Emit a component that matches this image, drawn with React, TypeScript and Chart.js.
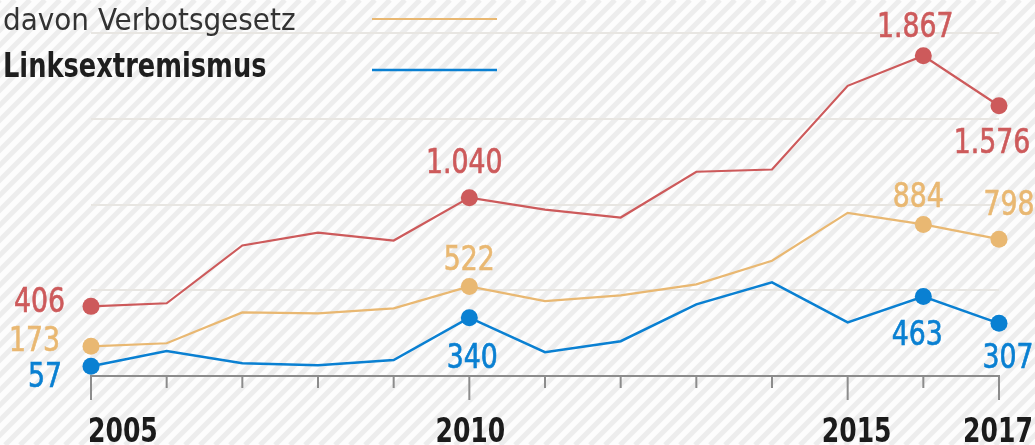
import React, { useEffect, useRef } from "react";
import { Chart, registerables } from "chart.js";

Chart.register(...registerables);

// ---- data ----
const years = ["2005", "2006", "2007", "2008", "2009", "2010", "2011", "2012", "2013", "2014", "2015", "2016", "2017"];
const rechtsextremismus = [406, 424, 761, 836, 790, 1040, 970, 924, 1191, 1204, 1692, 1867, 1576];
const verbotsgesetz = [173, 191, 371, 365, 394, 522, 437, 470, 534, 672, 951, 884, 798];
const linksextremismus = [57, 145, 74, 63, 93, 340, 139, 203, 418, 546, 313, 463, 307];
const yGridValues = [500, 1000, 1500, 2000];
const majorYears = ["2005", "2010", "2015", "2017"];
const markedIndices = [0, 5, 11, 12];
const legendLabels = ["davon Verbotsgesetz", "Linksextremismus"];

// ---- styling ----
const RED = "#cd5a5b";
const ORANGE = "#e9b872";
const BLUE = "#0a80d2";
const FONT = '"DejaVu Sans Condensed", sans-serif';

// label placement relative to the point (dataset index, data index, dx, baseline dy, align)
const labelPlacement: [number, number, number, number, CanvasTextAlign][] = [
  [2, 0, -26, 6, "right"], [2, 5, -5, -25, "center"], [2, 11, -8, -19, "center"], [2, 12, -7, 47, "center"],
  [1, 0, -31, 5, "right"], [1, 5, 0, -16, "center"], [1, 11, -5, -17, "center"], [1, 12, 10, -24, "center"],
  [0, 0, -29, 21, "right"], [0, 5, 3, 50, "center"], [0, 11, -6, 48, "center"], [0, 12, 9, 45, "center"],
];
const yearLabelPlacement: Record<string, [number, CanvasTextAlign]> = {
  "2005": [-3, "left"], "2010": [1, "center"], "2015": [9, "center"], "2017": [-1, "center"],
};

const fmt = (n: number) =>
  n >= 1000 ? Math.floor(n / 1000) + "." + String(n % 1000).padStart(3, "0") : String(n);

function drawText(
  ctx: CanvasRenderingContext2D, text: string, x: number, y: number,
  align: CanvasTextAlign, font: string, color: string, sx: number, stroke = 0,
) {
  ctx.save();
  ctx.translate(x, y);
  ctx.scale(sx, 1);
  ctx.font = font;
  ctx.textAlign = align;
  ctx.textBaseline = "alphabetic";
  ctx.fillStyle = color;
  ctx.fillText(text, 0, 0);
  if (stroke > 0) {
    ctx.strokeStyle = color;
    ctx.lineWidth = stroke;
    ctx.strokeText(text, 0, 0);
  }
  ctx.restore();
}

const backgroundPlugin = {
  id: "stripes",
  beforeDraw(chart: any) {
    const { ctx, width, height } = chart;
    ctx.save();
    ctx.fillStyle = "#fdfdfd";
    ctx.fillRect(0, 0, width, height);
    ctx.strokeStyle = "#ededed";
    ctx.lineWidth = 5;
    const period = 15;
    for (let x = -height; x < width + height; x += period) {
      ctx.beginPath();
      ctx.moveTo(x, height);
      ctx.lineTo(x + height, 0);
      ctx.stroke();
    }
    ctx.restore();
  },
};

const axisPlugin = {
  id: "xaxis",
  beforeDatasetsDraw(chart: any) {
    const { ctx } = chart;
    const xs = chart.scales.x;
    const ys = chart.scales.y;
    const y0 = ys.getPixelForValue(0);
    ctx.save();
    ctx.strokeStyle = "#8c8c8c";
    ctx.lineWidth = 2;
    ctx.beginPath();
    ctx.moveTo(xs.getPixelForValue(0) - 1, y0);
    ctx.lineTo(xs.getPixelForValue(years.length - 1) + 1, y0);
    ctx.stroke();
    years.forEach((yr, i) => {
      const x = xs.getPixelForValue(i);
      const len = majorYears.includes(yr) ? 24 : 12;
      ctx.beginPath();
      ctx.moveTo(x, y0);
      ctx.lineTo(x, y0 + len);
      ctx.stroke();
    });
    ctx.restore();
    years.forEach((yr, i) => {
      if (!majorYears.includes(yr)) return;
      const [dx, align] = yearLabelPlacement[yr];
      drawText(ctx, yr, xs.getPixelForValue(i) + dx, y0 + 66, align, `bold 34px ${FONT}`, "#1b1b1b", 0.82);
    });
  },
};

const labelsPlugin = {
  id: "valueLabels",
  afterDatasetsDraw(chart: any) {
    const { ctx } = chart;
    labelPlacement.forEach(([ds, idx, dx, dy, align]) => {
      const pt = chart.getDatasetMeta(ds).data[idx];
      const dataset = chart.data.datasets[ds];
      drawText(ctx, fmt(dataset.data[idx]), pt.x + dx, pt.y + dy, align, `33px ${FONT}`, dataset.borderColor, 0.9, 0.6);
    });
  },
};

const legendPlugin = {
  id: "topLegend",
  afterDraw(chart: any) {
    const { ctx } = chart;
    drawText(ctx, legendLabels[0], 3, 30, "left", `31px ${FONT}`, "#333333", 1);
    drawText(ctx, legendLabels[1], 3, 77, "left", `bold 34px ${FONT}`, "#1e1e1e", 0.84);
    ctx.save();
    ctx.lineWidth = 2;
    ctx.strokeStyle = ORANGE;
    ctx.beginPath();
    ctx.moveTo(372, 19);
    ctx.lineTo(497, 19);
    ctx.stroke();
    ctx.lineWidth = 2.5;
    ctx.strokeStyle = BLUE;
    ctx.beginPath();
    ctx.moveTo(372, 70);
    ctx.lineTo(497, 70);
    ctx.stroke();
    ctx.restore();
  },
};

export default function App() {
  const canvasRef = useRef<HTMLCanvasElement | null>(null);

  useEffect(() => {
    if (!canvasRef.current) return;
    const radius = (ctx: any) => (markedIndices.includes(ctx.dataIndex) ? 8.5 : 0);
    const mk = (data: number[], color: string, width: number) => ({
      data,
      borderColor: color,
      backgroundColor: color,
      borderWidth: width,
      pointRadius: radius,
      pointHoverRadius: radius,
      pointBackgroundColor: color,
      pointBorderWidth: 0,
      tension: 0,
      clip: false as any,
    });
    const chart = new Chart(canvasRef.current, {
      type: "line",
      data: {
        labels: years,
        datasets: [
          mk(linksextremismus, BLUE, 2.5),
          mk(verbotsgesetz, ORANGE, 2.2),
          mk(rechtsextremismus, RED, 2.2),
        ],
      },
      options: {
        animation: false,
        responsive: false,
        maintainAspectRatio: false,
        devicePixelRatio: 1,
        events: [],
        layout: { padding: { left: 91, right: 36, top: 33, bottom: 69 } },
        plugins: { legend: { display: false }, tooltip: { enabled: false } },
        scales: {
          x: { type: "category", display: false, offset: false },
          y: {
            min: 0,
            max: 2000,
            afterBuildTicks: (scale: any) => {
              scale.ticks = yGridValues.map((v) => ({ value: v }));
            },
            ticks: { display: false },
            grid: { color: "#e8e6e2", lineWidth: 2, drawTicks: false },
            border: { display: false },
          },
        },
      },
      plugins: [backgroundPlugin, axisPlugin, labelsPlugin, legendPlugin],
    });
    return () => chart.destroy();
  }, []);

  return (
    <div style={{ position: "absolute", left: 0, top: 0, width: 1035, height: 445 }}>
      <canvas ref={canvasRef} width={1035} height={445} style={{ display: "block", width: 1035, height: 445 }} />
    </div>
  );
}
